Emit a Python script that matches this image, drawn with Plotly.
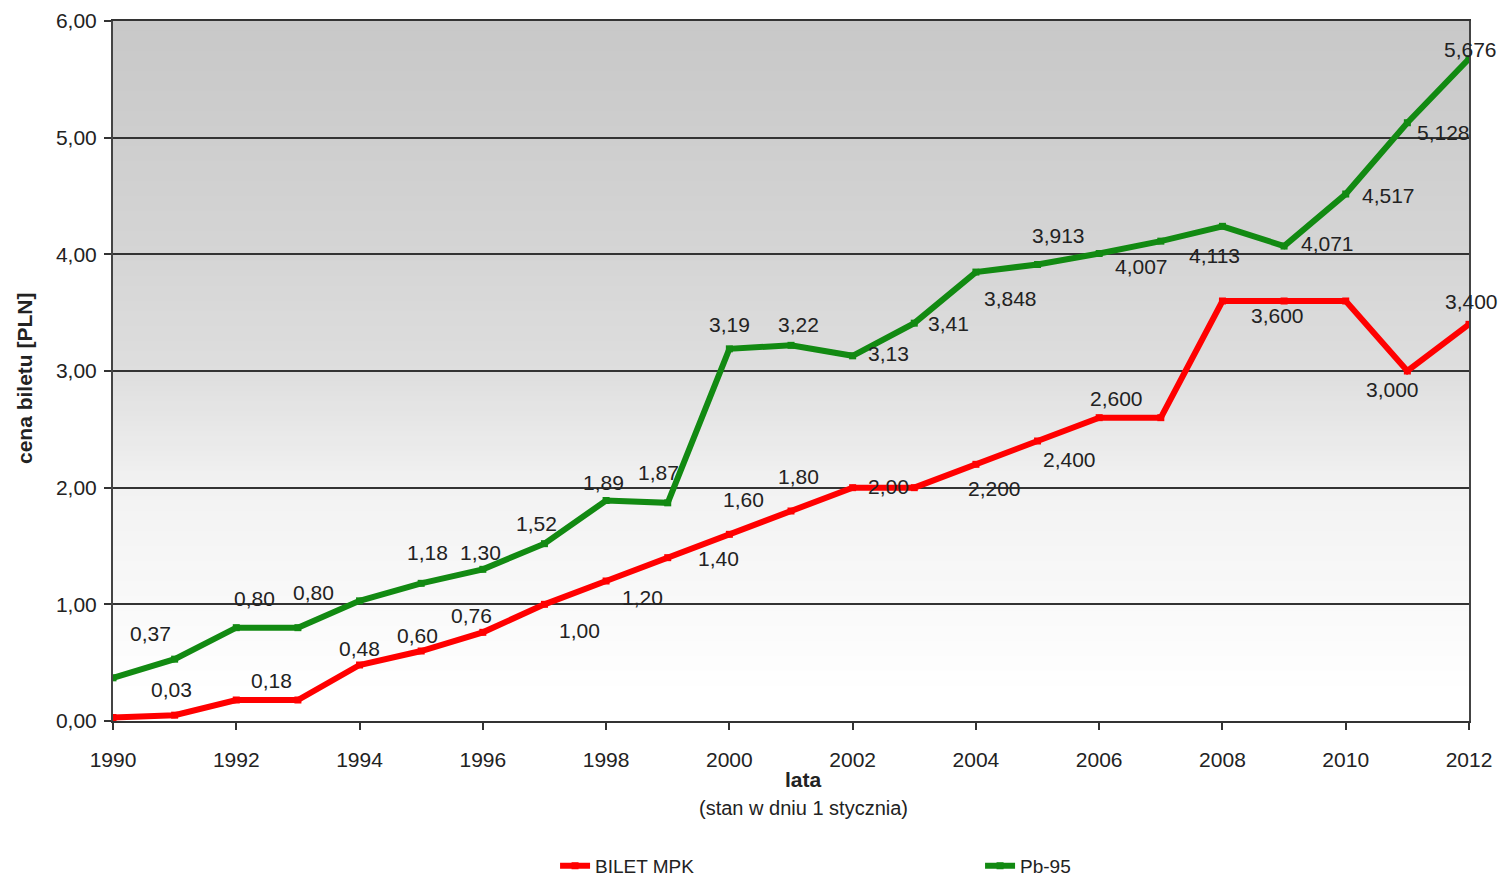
import plotly.graph_objects as go
import numpy as np

# ---------------- data ----------------
years = list(range(1990, 2013))

bilet_mpk = [0.03, 0.05, 0.18, 0.18, 0.48, 0.60, 0.76, 1.00, 1.20, 1.40, 1.60, 1.80,
             2.00, 2.00, 2.20, 2.40, 2.60, 2.60, 3.60, 3.60, 3.60, 3.00, 3.40]
pb95 = [0.37, 0.53, 0.80, 0.80, 1.03, 1.18, 1.30, 1.52, 1.89, 1.87, 3.19, 3.22,
        3.13, 3.41, 3.848, 3.913, 4.007, 4.113, 4.24, 4.071, 4.517, 5.128, 5.676]

# value labels (empty string = point not labelled in the original)
bilet_labels = ["0,03", "", "0,18", "", "0,48", "0,60", "0,76", "1,00", "1,20", "1,40", "1,60", "1,80",
                "2,00", "", "2,200", "2,400", "2,600", "", "", "3,600", "", "3,000", "3,400"]
pb95_labels = ["0,37", "", "0,80", "0,80", "", "1,18", "1,30", "1,52", "1,89", "1,87", "3,19", "3,22",
               "3,13", "3,41", "3,848", "3,913", "4,007", "4,113", "", "4,071", "4,517", "5,128", "5,676"]

y_ticks = [0, 1, 2, 3, 4, 5, 6]
x_ticks = list(range(1990, 2013, 2))

# ---------------- styles ----------------
# label pixel offsets (xshift, yshift) relative to the point
bilet_off = [(58, 28), (0, 0), (35, 20), (0, 0), (0, 17), (-4, 16), (-11, 17), (35, -26), (36, -16),
             (51, -1), (14, 35), (7, 35), (36, 1), (0, 0), (19, -24), (32, -18), (17, 19), (0, 0),
             (0, 0), (-7, -14), (0, 0), (-15, -18), (2, 23)]
pb95_off = [(37, 44), (0, 0), (18, 29), (16, 35), (0, 0), (6, 31), (-2, 17), (-8, 20), (-3, 18),
            (-9, 30), (0, 24), (7, 21), (36, 2), (34, 0), (35, -26), (21, 29), (42, -13), (54, -14),
            (0, 0), (43, 3), (43, -1), (36, -10), (1, 9)]

RED = "#ff0000"
GREEN = "#128a12"
FONT = "Liberation Sans, Arial, sans-serif"
TXT = "#222222"
LBL = 21

fig = go.Figure()
fig.add_trace(go.Scatter(x=years, y=bilet_mpk, name="BILET MPK", mode="lines+markers",
                         line=dict(color=RED, width=6),
                         marker=dict(symbol="square", size=7, color=RED)))
fig.add_trace(go.Scatter(x=years, y=pb95, name="Pb-95", mode="lines+markers",
                         line=dict(color=GREEN, width=6),
                         marker=dict(symbol="square", size=7, color=GREEN)))

annotations = []
for xs, ys, labs, offs in [(years, bilet_mpk, bilet_labels, bilet_off),
                           (years, pb95, pb95_labels, pb95_off)]:
    for xv, yv, lab, (dx, dy) in zip(xs, ys, labs, offs):
        if lab:
            annotations.append(dict(x=xv, y=yv, xref="x", yref="y", text=lab, showarrow=False,
                                    xshift=dx, yshift=dy, font=dict(family=FONT, size=LBL, color=TXT)))

# axis titles
annotations.append(dict(x=-0.0656, y=0.49, xref="paper", yref="paper", text="<b>cena biletu [PLN]</b>",
                        textangle=-90, showarrow=False, xanchor="center", yanchor="middle",
                        font=dict(family=FONT, size=21, color=TXT)))
annotations.append(dict(x=0.509, y=-0.083, xref="paper", yref="paper", text="<b>lata</b>",
                        showarrow=False, xanchor="center", yanchor="middle",
                        font=dict(family=FONT, size=21, color=TXT)))
annotations.append(dict(x=0.509, y=-0.124, xref="paper", yref="paper", text="(stan w dniu 1 stycznia)",
                        showarrow=False, xanchor="center", yanchor="middle",
                        font=dict(family=FONT, size=20, color=TXT)))

# gradient background bands (grey at top, white at bottom)
stops_v = [0.0, 0.25, 1.0, 2.0, 3.0, 4.0, 5.0, 6.0]
stops_c = [255, 255, 249, 242, 222, 213, 206, 200]
shapes = []
n = 140
for i in range(n):
    v = (i + 0.5) / n * 6
    c = int(round(np.interp(v, stops_v, stops_c)))
    shapes.append(dict(type="rect", xref="x domain", yref="y domain", x0=0, x1=1,
                       y0=i / n, y1=(i + 1) / n, fillcolor=f"rgb({c},{c},{c})",
                       line=dict(width=0), layer="below"))

fig.update_layout(
    width=1505, height=876,
    margin=dict(l=113, r=36, t=21, b=155, autoexpand=False),
    paper_bgcolor="white", plot_bgcolor="white",
    separators=", ",
    font=dict(family=FONT, size=21, color=TXT),
    showlegend=True,
    legend=dict(orientation="h", x=0.326, y=-0.207, xanchor="left", yanchor="middle",
                font=dict(family=FONT, size=19, color=TXT), entrywidth=380, entrywidthmode="pixels",
                bgcolor="rgba(0,0,0,0)"),
    annotations=annotations,
    shapes=shapes,
)
fig.update_xaxes(range=[1990, 2012], tickvals=x_ticks, ticktext=[str(t) for t in x_ticks],
                 showgrid=False, showline=True, linecolor="#333333", linewidth=2, mirror=True,
                 ticks="outside", ticklen=7, tickcolor="#333333", tickwidth=2, zeroline=False,
                 tickfont=dict(family=FONT, size=21, color=TXT), ticklabelstandoff=12)
fig.update_yaxes(range=[0, 6], tickvals=y_ticks, tickformat=".2f",
                 showgrid=True, gridcolor="#333333", gridwidth=2, showline=True, linecolor="#444444",
                 linewidth=2, mirror=True, ticks="outside", ticklen=7, tickcolor="#333333", tickwidth=2,
                 zeroline=False, tickfont=dict(family=FONT, size=21, color=TXT), ticklabelstandoff=3)

fig.write_html("out.html")
